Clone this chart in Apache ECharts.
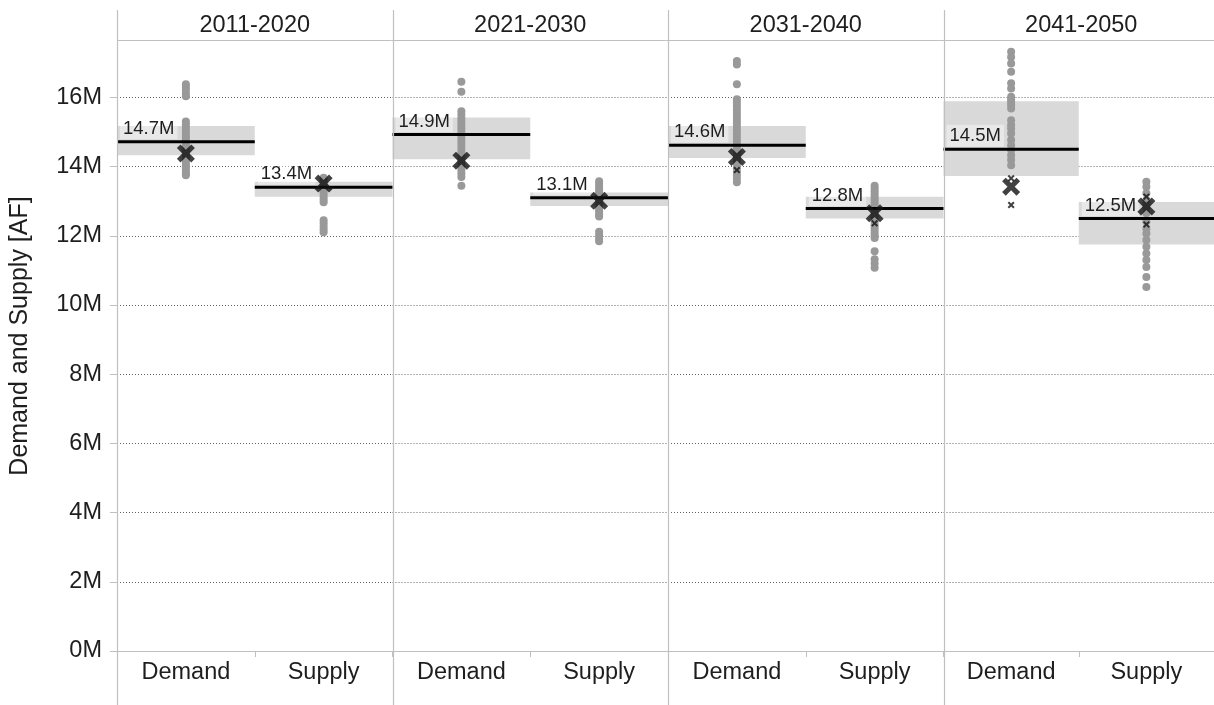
<!DOCTYPE html>
<html><head><meta charset="utf-8">
<script src="https://cdn.jsdelivr.net/npm/echarts@6/dist/echarts.min.js"></script>
<style>html,body{margin:0;padding:0;background:#fff}#c{width:1214px;height:705px}</style>
</head><body><div id="c"></div>
<script>
// ---- data (values in millions of AF) ----
const periods = ['2011-2020', '2021-2030', '2031-2040', '2041-2050'];
const categories = ['Demand', 'Supply'];
const yAxisTitle = 'Demand and Supply [AF]';
const yTickStep = 2;

const demandMean = [14.72, 14.93, 14.62, 14.50];
const supplyMean = [13.40, 13.10, 12.79, 12.50];
const demandBandLow = [14.33, 14.21, 14.25, 13.73];
const demandBandHigh = [15.17, 15.42, 15.17, 15.89];
const supplyBandLow = [13.13, 12.86, 12.50, 11.75];
const supplyBandHigh = [13.56, 13.25, 13.13, 12.98];
const demandBigX = [14.38, 14.17, 14.28, 13.42];
const supplyBigX = [13.51, 13.01, 12.65, 12.85];
const demandSmallX = [[], [], [13.9], [13.66, 12.89]];
const supplySmallX = [[], [], [12.36], [13.13, 12.33]];

const demandDots2011 = [16.38, 16.3, 16.22, 16.12, 16.03, 15.3, 15.22, 15.12, 15.02, 14.93, 14.84, 14.76, 14.68, 14.6, 14.52, 14.44, 14.36, 14.28, 14.2, 14.12, 14.04, 13.96, 13.88, 13.8, 13.75];
const supplyDots2011 = [13.68, 13.6, 13.52, 13.44, 13.36, 13.28, 13.2, 13.12, 13.04, 12.97, 12.45, 12.36, 12.27, 12.18, 12.1];
const demandDots2021 = [16.45, 16.16, 15.6, 15.5, 15.4, 15.3, 15.2, 15.1, 15.0, 14.9, 14.8, 14.7, 14.6, 14.5, 14.4, 14.3, 14.2, 14.1, 14.0, 13.9, 13.8, 13.7, 13.45];
const supplyDots2021 = [13.58, 13.5, 13.42, 13.34, 13.26, 13.18, 13.1, 13.02, 12.94, 12.86, 12.78, 12.7, 12.62, 12.56, 12.12, 12.02, 11.92, 11.84];
const demandDots2031 = [17.05, 16.95, 16.38, 15.95, 15.85, 15.75, 15.65, 15.55, 15.45, 15.35, 15.25, 15.15, 15.05, 14.95, 14.85, 14.75, 14.65, 14.55, 14.45, 14.35, 14.25, 14.15, 14.05, 13.95, 13.85, 13.75, 13.65, 13.55];
const supplyDots2031 = [13.45, 13.37, 13.29, 13.21, 13.13, 13.05, 12.97, 12.89, 12.81, 12.73, 12.65, 12.57, 12.49, 12.41, 12.33, 12.25, 12.17, 12.09, 12.01, 11.94, 11.55, 11.32, 11.2, 11.08];
const demandDots2041 = [17.32, 17.17, 16.98, 16.74, 16.41, 16.26, 16.02, 15.95, 15.87, 15.78, 15.68, 15.34, 15.2, 15.1, 14.96, 14.77, 14.62, 14.48, 14.33, 14.19, 14.04];
const supplyDots2041 = [13.56, 13.42, 13.23, 13.03, 12.84, 12.65, 12.41, 12.21, 12.07, 11.88, 11.68, 11.49, 11.3, 11.1, 10.81, 10.52];
const demandDots = [demandDots2011, demandDots2021, demandDots2031, demandDots2041];
const supplyDots = [supplyDots2011, supplyDots2021, supplyDots2031, supplyDots2041];

// ---- layout ----
const FONT = "'Liberation Sans', Arial, sans-serif";
const PANEL_LEFT = 117, PANEL_W = 275.5, AXIS_Y = 651, PX_PER_M = 34.6, Y_MAX = 18;
const GRID_TOP = AXIS_Y - Y_MAX * PX_PER_M;
const BIG_X = 'path://M2,0 L5,3 L8,0 L10,2 L7,5 L10,8 L8,10 L5,7 L2,10 L0,8 L3,5 L0,2 Z';
const TXT = '#1e1e1e';

function renderBand(params, api) {
  const c = api.value(0);
  const p1 = api.coord([c, api.value(2)]);
  const p2 = api.coord([c, api.value(1)]);
  const w = api.size([1, 0])[0];
  return { type: 'rect', shape: { x: p1[0] - w / 2, y: p1[1], width: w, height: p2[1] - p1[1] }, style: { fill: '#d9d9d9' } };
}
function renderMean(params, api) {
  const c = api.value(0), v = api.value(1);
  const p = api.coord([c, v]);
  const w = api.size([1, 0])[0];
  const x0 = p[0] - w / 2;
  return { type: 'group', children: [
    { type: 'line', shape: { x1: x0, y1: p[1], x2: x0 + w, y2: p[1] }, style: { stroke: '#000', lineWidth: 3 } },
    { type: 'text', x: x0 + 3, y: p[1] - 2.5, style: { text: v.toFixed(1) + 'M', font: '18.5px ' + FONT, fill: TXT, align: 'left', verticalAlign: 'bottom', backgroundColor: 'rgba(255,255,255,0.4)', padding: [2, 3, 1, 3] } }
  ] };
}

const grid = [], xAxis = [], yAxis = [], series = [], graphic = [];
periods.forEach((p, i) => {
  const left = PANEL_LEFT + i * PANEL_W;
  grid.push({ left: left, width: PANEL_W, top: GRID_TOP, height: AXIS_Y - GRID_TOP });
  xAxis.push({
    type: 'category', gridIndex: i, data: categories, boundaryGap: true,
    axisLine: { lineStyle: { color: '#c0c0c0', width: 1 } },
    axisTick: { show: true, length: 6, lineStyle: { color: '#c0c0c0' } },
    axisLabel: { color: TXT, fontSize: 23.5, fontFamily: FONT, margin: 10 }
  });
  yAxis.push({
    type: 'value', gridIndex: i, min: 0, max: Y_MAX, interval: yTickStep,
    axisLine: { show: false },
    axisTick: { show: i === 0, length: 7, lineStyle: { color: '#c0c0c0' } },
    axisLabel: { show: i === 0, showMaxLabel: false, color: TXT, fontSize: 23.5, fontFamily: FONT, margin: 15, formatter: v => v + 'M' },
    splitLine: { show: true, lineStyle: { color: '#666', type: [1, 2], width: 1 } }
  });
  series.push({
    type: 'custom', xAxisIndex: i, yAxisIndex: i, z: 1, renderItem: renderBand,
    encode: { x: 0, y: [1, 2] },
    data: [[0, demandBandLow[i], demandBandHigh[i]], [1, supplyBandLow[i], supplyBandHigh[i]]]
  });
  series.push({
    type: 'scatter', xAxisIndex: i, yAxisIndex: i, z: 2, symbol: 'circle', symbolSize: 8,
    itemStyle: { color: '#999999', opacity: 1 },
    data: demandDots[i].map(v => [0, v]).concat(supplyDots[i].map(v => [1, v]))
  });
  series.push({
    type: 'custom', xAxisIndex: i, yAxisIndex: i, z: 3, renderItem: renderMean,
    encode: { x: 0, y: 1 },
    data: [[0, demandMean[i]], [1, supplyMean[i]]]
  });
  series.push({
    type: 'scatter', xAxisIndex: i, yAxisIndex: i, z: 4, symbol: BIG_X, symbolSize: 7,
    itemStyle: { color: '#111' },
    data: demandSmallX[i].map(v => [0, v]).concat(supplySmallX[i].map(v => [1, v]))
  });
  series.push({
    type: 'scatter', xAxisIndex: i, yAxisIndex: i, z: 5, symbol: BIG_X, symbolSize: 18,
    itemStyle: { color: '#111' },
    data: [[0, demandBigX[i]], [1, supplyBigX[i]]]
  });
  graphic.push({ type: 'text', z: 110, x: left + PANEL_W / 2, y: 25.5,
    style: { text: p, font: '23.5px ' + FONT, fill: TXT, align: 'center', verticalAlign: 'middle' } });
});

// header cover, header line, panel dividers, y-axis title
graphic.unshift({ type: 'rect', z: 100, shape: { x: 0, y: 0, width: 1214, height: 39.5 }, style: { fill: '#fff' } });
graphic.push({ type: 'line', z: 110, shape: { x1: PANEL_LEFT, y1: 40.5, x2: 1214, y2: 40.5 }, style: { stroke: '#c0c0c0', lineWidth: 1 } });
for (let i = 0; i <= periods.length; i++) {
  const x = Math.round(PANEL_LEFT + i * PANEL_W) + 0.5;
  graphic.push({ type: 'line', z: 110, shape: { x1: x, y1: 10, x2: x, y2: 705 }, style: { stroke: '#c0c0c0', lineWidth: 1.2 } });
}
graphic.push({ type: 'text', z: 110, x: 20, y: 336, rotation: Math.PI / 2,
  style: { text: yAxisTitle, font: '25px ' + FONT, fill: TXT, align: 'center', verticalAlign: 'middle' } });

const chart = echarts.init(document.getElementById('c'), null, { renderer: 'canvas' });
chart.setOption({ animation: false, grid, xAxis, yAxis, series, graphic });
</script>
</body></html>
